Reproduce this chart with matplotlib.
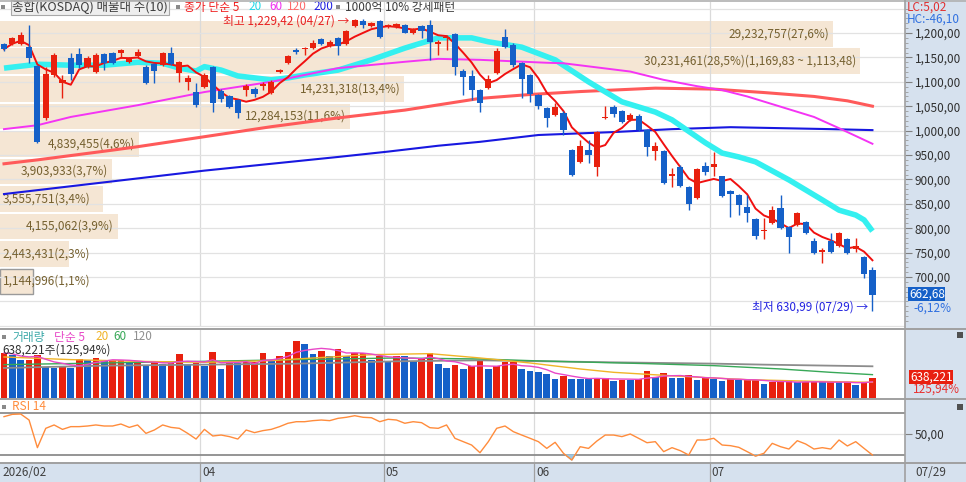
import numpy as np
import pandas as pd
import matplotlib
matplotlib.use('Agg')
import matplotlib.pyplot as plt
import matplotlib.transforms as mtransforms
from matplotlib.patches import Rectangle
from matplotlib.lines import Line2D

plt.rcParams['font.family'] = ['Noto Sans CJK KR', 'DejaVu Sans']

# ---- candles (KOSDAQ daily) ----
opens = [1177, 1177, 1177, 1172, 1132, 1025, 1114, 1098, 1148, 1156,
         1131, 1121, 1157, 1158, 1158, 1140, 1153, 1131, 1136, 1134,
         1160, 1119, 1100, 1080, 1090, 1130, 1082, 1070, 1063, 1083,
         1085, 1091, 1078, 1121, 1138, 1164, 1167, 1169, 1187, 1173,
         1190, 1177, 1214, 1225, 1214, 1224, 1214, 1213, 1216, 1201,
         1214, 1216, 1177, 1189, 1198, 1123, 1112, 1083, 1087, 1119,
         1192, 1175, 1138, 1114, 1073, 1047, 1032, 1037, 960, 936,
         960, 925, 1026, 1048, 1041, 1022, 1030, 1001, 958, 958,
         907, 926, 884, 861, 928, 926, 906, 877, 868, 844,
         818, 794, 810, 841, 802, 807, 813, 774, 751, 774,
         764, 778, 757, 742, 714]
highs = [1180, 1192, 1203, 1216, 1135, 1131, 1158, 1114, 1158, 1169,
         1152, 1160, 1160, 1162, 1167, 1151, 1167, 1134, 1138, 1162,
         1171, 1143, 1114, 1097, 1119, 1133, 1085, 1072, 1065, 1096,
         1089, 1100, 1104, 1126, 1155, 1169, 1172, 1186, 1190, 1186,
         1192, 1206, 1229.42, 1228, 1222, 1226, 1219, 1221, 1218, 1211,
         1216, 1227, 1186, 1196, 1200, 1126, 1124, 1085, 1114, 1169,
         1208, 1179, 1141, 1116, 1075, 1049, 1056, 1040, 962, 981,
         981, 999, 1050, 1052, 1043, 1036, 1034, 1003, 977, 960,
         923, 930, 886, 923, 936, 957, 908, 879, 870, 868,
         820, 821, 845, 868, 804, 834, 815, 780, 759, 790,
         792, 780, 779, 744, 721]
lows = [1164, 1175, 1175, 1138, 975, 1022, 1110, 1066, 1104, 1128,
        1129, 1119, 1124, 1136, 1148, 1138, 1150, 1095, 1097, 1132,
        1134, 1100, 1083, 1049, 1088, 1039, 1059, 1046, 1026, 1071,
        1068, 1083, 1076, 1119, 1136, 1157, 1155, 1167, 1175, 1171,
        1155, 1175, 1212, 1210, 1212, 1190, 1210, 1211, 1199, 1198,
        1189, 1145, 1155, 1165, 1114, 1073, 1063, 1039, 1085, 1116,
        1169, 1131, 1066, 1059, 1044, 1008, 1030, 991, 907, 934,
        933, 906, 1023, 1027, 1016, 1020, 999, 947, 940, 891,
        885, 884, 837, 859, 909, 906, 864, 824, 827, 813,
        777, 778, 808, 798, 749, 805, 789, 747, 729, 749,
        762, 747, 752, 697, 630.99]
closes = [1167, 1189, 1196, 1148, 977, 1117, 1155, 1104, 1117, 1134,
          1149, 1155, 1138, 1138, 1165, 1146, 1162, 1098, 1122, 1160,
          1136, 1141, 1107, 1052, 1114, 1057, 1064, 1048, 1036, 1091,
          1076, 1095, 1100, 1124, 1153, 1162, 1170, 1179, 1177, 1182,
          1173, 1204, 1226.18, 1216, 1220, 1192, 1216, 1218, 1201, 1208,
          1204, 1182, 1182, 1192, 1131, 1110, 1083, 1057, 1105, 1163,
          1172, 1134, 1105, 1075, 1050, 1025, 1049, 1001, 909, 968,
          950, 997, 1028, 1034, 1018, 1032, 1001, 967, 968, 893,
          911, 887, 850, 921, 915, 932, 866, 870, 848, 832,
          785, 796, 837, 800, 783, 832, 791, 749, 755, 751,
          790, 749, 764, 705.9, 662.68]

# daily volume (shares)
volume = [1436000, 1383000, 1202000, 1224000, 1383000, 979000, 968000, 975000, 970000, 1245000,
          1202000, 1277000, 1170000, 1202000, 1213000, 1149000, 1170000, 1032000, 1170000, 1085000,
          1117000, 1415000, 1085000, 1117000, 1011000, 1468000, 936000, 1149000, 1117000, 1138000,
          1149000, 1436000, 1224000, 1351000, 1468000, 1809000, 1734000, 1415000, 1490000, 1351000,
          1575000, 1351000, 1436000, 1447000, 1202000, 1351000, 1138000, 1351000, 1340000, 1170000,
          1245000, 1436000, 1096000, 958000, 1043000, 926000, 1032000, 1170000, 926000, 1011000,
          1138000, 1149000, 926000, 851000, 819000, 766000, 606000, 692000, 606000, 601000,
          596000, 638000, 649000, 553000, 585000, 580000, 606000, 851000, 660000, 798000,
          638000, 633000, 723000, 574000, 670000, 606000, 553000, 606000, 564000, 585000,
          590000, 457000, 500000, 505000, 553000, 500000, 505000, 511000, 500000, 511000,
          500000, 505000, 426000, 506770, 638221]

# RSI 14
rsi = [66.5, 68.7, 69.0, 63.3, 37.0, 55.4, 58.6, 54.4, 57.0, 57.0,
       57.6, 58.6, 57.6, 57.6, 59.5, 56.3, 58.6, 50.6, 53.8, 58.6,
       56.3, 55.4, 50.6, 45.2, 54.4, 48.1, 49.0, 47.5, 45.2, 53.8,
       51.3, 53.2, 54.4, 57.0, 60.2, 61.7, 61.7, 62.7, 63.3, 62.7,
       64.9, 65.9, 67.4, 65.9, 65.5, 61.7, 64.0, 63.3, 60.2, 61.7,
       60.8, 56.0, 55.4, 58.6, 45.9, 42.7, 39.5, 32.2, 42.7, 55.4,
       57.6, 52.2, 49.0, 45.9, 42.7, 36.3, 42.1, 31.6, 25.2, 37.9,
       36.3, 43.3, 49.0, 49.0, 47.5, 50.0, 45.9, 41.7, 42.7, 33.2,
       37.0, 34.1, 30.0, 44.3, 44.3, 45.9, 39.5, 38.9, 37.3, 33.2,
       29.0, 31.6, 41.1, 37.9, 35.7, 43.6, 40.5, 35.7, 37.0, 35.7,
       44.3, 38.6, 42.7, 36.3, 30.0]

# long moving averages (candle index -> value)
ma20_idx = [0, 4, 8, 12, 16, 19, 21, 23, 24, 26, 28, 32, 34, 36, 40, 44, 48, 52,
            56, 58, 62, 66, 70, 74, 78, 80, 84, 86, 88, 90, 94, 98, 100, 102, 103, 104]
ma20_val = [1128, 1136, 1134, 1134, 1140, 1138, 1128, 1122, 1131, 1124, 1112, 1104,
            1108, 1114, 1124, 1145, 1169, 1190, 1190, 1182, 1171, 1145, 1100, 1059,
            1038, 1022, 975, 954, 946, 936, 899, 858, 837, 827, 817, 794]
ma60_idx = [0, 4, 8, 16, 24, 32, 40, 48, 52, 57, 65, 67, 75, 79, 83, 86, 89, 93, 97, 100, 104]
ma60_val = [1003, 1011, 1028, 1052, 1079, 1100, 1128, 1141, 1147, 1145, 1139, 1138,
            1121, 1104, 1091, 1083, 1070, 1049, 1028, 1005, 973]
ma120_idx = [0, 4, 13, 16, 32, 40, 48, 57, 63, 69, 78, 85, 91, 97, 101, 104]
ma120_val = [932, 940, 960, 967, 1008, 1026, 1042, 1066, 1074, 1080, 1087, 1085,
             1078, 1070, 1061, 1050]
ma200_idx = [0, 24, 40, 46, 52, 57, 64, 73, 80, 87, 93, 99, 104]
ma200_val = [870, 918, 946, 957, 969, 977, 991, 997, 1003, 1007, 1005, 1003, 1001]

vma20_idx = [0, 8, 16, 24, 32, 35, 44, 51, 57, 63, 69, 73, 81, 89, 97, 104]
vma20_val = [1309, 1224, 1170, 1138, 1192, 1245, 1383, 1415, 1277, 1117, 926, 819,
             692, 585, 532, 500]
vma60_idx = [0, 12, 24, 35, 47, 57, 63, 69, 77, 85, 93, 99, 104]
vma60_val = [1064, 1117, 1170, 1224, 1277, 1245, 1192, 1149, 1096, 1032, 926, 819, 745]
vma120_idx = [0, 12, 24, 35, 47, 57, 73, 85, 91, 104]
vma120_val = [958, 1032, 1064, 1096, 1170, 1202, 1138, 1096, 1064, 1011]

# volume profile (매물대), top band first
band_vol = [29232757, 30231461, 14231318, 12284153, 4839455,
            3903933, 3555751, 4155062, 2443431, 1144996]
band_pct = [27.6, 28.5, 13.4, 11.6, 4.6, 3.7, 3.4, 3.9, 2.3, 1.1]
band_top = 1226.18
band_bottom = 662.68

first_label = '2026/02'
month_start = [24, 46, 64, 85]
month_labels = ['04', '05', '06', '07']
last_date = '07/29'
price_ticks = [700, 750, 800, 850, 900, 950, 1000, 1050, 1100, 1150, 1200]

RED = '#E8200E'
BLUE = '#1560C8'
PANEL = '#D6E1EE'
SEP = '#A0A0A0'


def kfmt(v, nd=2):
    return f"{v:,.{nd}f}".replace('.', ',')


W, H = 966, 482


def rect(x0, y0, x1, y1):
    return [x0 / W, 1 - y1 / H, (x1 - x0) / W, (y1 - y0) / H]


def ftext(x, y, s, color='#404040', **kw):
    kw.setdefault('fontsize', 8.5)
    return fig.text(x / W, 1 - y / H, s, color=color, va='center', ha=kw.pop('ha', 'left'), **kw)


def fbox(x0, y0, x1, y1, color):
    fig.patches.append(Rectangle((x0 / W, 1 - y1 / H), (x1 - x0) / W, (y1 - y0) / H,
                                 transform=fig.transFigure, facecolor=color,
                                 edgecolor='none', zorder=5))


def fline(x0, y0, x1, y1, color=SEP, lw=1.2):
    fig.add_artist(Line2D([x0 / W, x1 / W], [1 - y0 / H, 1 - y1 / H],
                          transform=fig.transFigure, color=color, lw=lw, zorder=6))


opens = np.array(opens, float)
highs = np.array(highs, float)
lows = np.array(lows, float)
closes = np.array(closes, float)
volume = np.array(volume, float)
rsi = np.array(rsi, float)
n = len(closes)
x = np.arange(n)
xlim = (-0.48, 107.9)

fig = plt.figure(figsize=(9.66, 4.82), dpi=100)
fig.patches.append(Rectangle((905 / W, 0), 61 / W, 1, transform=fig.transFigure,
                             facecolor=PANEL, edgecolor='none', zorder=-1))

ax = fig.add_axes(rect(0, 2, 905, 327))
axv = fig.add_axes(rect(0, 329, 905, 399))
axr = fig.add_axes(rect(0, 399, 905, 463))
axd = fig.add_axes(rect(0, 463, 905, 482))

for a in (ax, axv, axr, axd):
    a.set_xlim(*xlim)
    for s in a.spines.values():
        s.set_visible(False)
    a.tick_params(axis='x', bottom=False, labelbottom=False)
    a.tick_params(axis='y', left=False, labelleft=False)
    for m in month_start:
        a.axvline(m - 0.5, color='#DADADA' if a is not axd else SEP, lw=0.9, zorder=1)

# ---------------- price panel ----------------
ax.set_ylim(597.6, 1263.5)
for g in range(600, 1251, 50):
    ax.axhline(g, color='#E2E2E2', lw=0.9, zorder=1)

step = (band_top - band_bottom) / len(band_pct)
max_w = 103.0
for k, (bv, bp) in enumerate(zip(band_vol, band_pct)):
    hi = band_top - k * step
    lo = hi - step
    w = bp / max(band_pct) * max_w
    ax.barh((hi + lo) / 2, w, height=step - 3.2, left=xlim[0], color='#F5E6D4',
            edgecolor='#9A9A9A' if k == len(band_pct) - 1 else 'none', lw=1, zorder=0.8)
    label = f"{bv:,}({kfmt(bp, 1)}%)"
    if bp == max(band_pct):
        label += f"({kfmt(hi)} ~ {kfmt(lo)})"
    if w * 8.35 > 108:
        ax.text(xlim[0] + w - 0.45, (hi + lo) / 2, label, ha='right', va='center',
                fontsize=8.5, color='#75602F', zorder=1.5)
    else:
        ax.text(xlim[0] + 0.3, (hi + lo) / 2, label, ha='left', va='center',
                fontsize=8.5, color='#75602F', zorder=1.5)

ma5 = pd.Series(closes).rolling(5, min_periods=1).mean()
ax.plot(ma120_idx, ma120_val, color='#FF5A5A', lw=2.2, zorder=2)
ax.plot(ma200_idx, ma200_val, color='#1818E0', lw=1.5, zorder=2)
ax.plot(ma20_idx, ma20_val, color='#34F0F0', lw=4.0, zorder=2.2, solid_capstyle='butt')
ax.plot(ma60_idx, ma60_val, color='#F434F4', lw=1.4, zorder=2.5)
ax.plot(x, ma5, color='#F01010', lw=1.4, zorder=3)

up = closes >= opens
ccol = np.where(up, RED, BLUE)
ax.vlines(x, lows, highs, colors=ccol, lw=1.0, zorder=4)
body_lo = np.minimum(opens, closes)
body_h = np.maximum(np.abs(closes - opens), 2.5)
ax.bar(x, body_h, bottom=body_lo, width=0.74, color=ccol, linewidth=0, zorder=5)

ihi = int(np.argmax(highs))
ilo = int(np.argmin(lows))
ax.text(ihi - 0.6, highs[ihi] - 4, f"최고 {kfmt(highs[ihi])} (04/27) →", ha='right',
        va='center', fontsize=8.5, color='#E82020', zorder=6)
ax.text(ilo - 0.55, lows[ilo] + 8, f"최저 {kfmt(lows[ilo])} ({last_date}) →", ha='right',
        va='center', fontsize=8.5, color='#2424E0', zorder=6)

ax.yaxis.tick_right()
ax.set_yticks(price_ticks)
ax.set_yticklabels([kfmt(v) for v in price_ticks])
ax.set_yticks(np.arange(610, 1260, 10), minor=True)
ax.tick_params(axis='y', which='major', right=True, labelright=True, length=5,
               color='#808080', labelsize=8.5, labelcolor='#303030', pad=2)
ax.tick_params(axis='y', which='minor', right=True, length=2, color='#9A9A9A')

tr = mtransforms.blended_transform_factory(ax.transAxes, ax.transData)
chg = (closes[-1] / closes[-2] - 1) * 100
ax.text(1 + 4 / 905, closes[-1] + 2, kfmt(closes[-1]), transform=tr, ha='left', va='center',
        fontsize=8.5, color='white', zorder=7,
        bbox=dict(facecolor=BLUE, edgecolor='none', pad=0.4))
ax.text(1 + 8 / 905, closes[-1] - 26, f"{kfmt(chg)}%", transform=tr, ha='left', va='center',
        fontsize=8.5, color='#3070E0')

# ---------------- volume panel ----------------
axv.set_ylim(-32000, 2201000)
vprev = np.concatenate([[0], volume[:-1]])
vcol = np.where(volume >= vprev, RED, BLUE)
axv.bar(x, volume, width=0.8, color=vcol, linewidth=0, zorder=2)
vma5 = pd.Series(volume).rolling(5, min_periods=1).mean()
axv.plot(vma120_idx, np.array(vma120_val) * 1000, color='#8C8C8C', lw=1.3, zorder=3)
axv.plot(vma60_idx, np.array(vma60_val) * 1000, color='#38A858', lw=1.0, zorder=3)
axv.plot(vma20_idx, np.array(vma20_val) * 1000, color='#F0B428', lw=1.0, zorder=3)
axv.plot(x, vma5, color='#E848C8', lw=1.0, zorder=3)
vr = volume[-1] / volume[-2] * 100
trv = mtransforms.blended_transform_factory(axv.transAxes, axv.transData)
axv.text(1 + 5 / 905, volume[-1] + 20000, f"{volume[-1]:,.0f}", transform=trv, ha='left',
         va='center', fontsize=8.5, color='white',
         bbox=dict(facecolor='#E82010', edgecolor='none', pad=0.4))
axv.text(1 + 8 / 905, 270000, f"{kfmt(vr)}%", transform=trv, ha='left', va='center',
         fontsize=8.5, color='#E83030')

# ---------------- RSI panel ----------------
axr.set_ylim(22.4, 83.3)
axr.axhline(50, color='#E2E2E2', lw=0.9, zorder=1)
axr.axhline(70, color='#8C8C8C', lw=1.3, zorder=1)
axr.axhline(30, color='#8C8C8C', lw=1.3, zorder=1)
axr.fill_between(x, rsi, 30, where=rsi < 30, interpolate=True, color='#9CC8E4', zorder=2)
axr.plot(x, rsi, color='#FF8C3C', lw=1.0, zorder=3)
axr.yaxis.tick_right()
axr.set_yticks([50])
axr.set_yticklabels([kfmt(50)])
axr.tick_params(axis='y', right=True, labelright=True, length=5, color='#808080',
                labelsize=8.5, labelcolor='#303030', pad=2)

# ---------------- date row ----------------
axd.set_facecolor(PANEL)
axd.set_ylim(0, 1)
axd.text(xlim[0] + 0.3, 0.5, first_label, ha='left', va='center', fontsize=8.5, color='#404040')
for m, lab in zip(month_start, month_labels):
    axd.text(m - 0.3, 0.5, lab, ha='left', va='center', fontsize=8.5, color='#404040')
ftext(915, 472, last_date)

# ---------------- frame & legends ----------------
fline(0, 0.5, 966, 0.5, '#B0B0B0', 1.2)
fline(0, 329, 966, 329, SEP, 1.4)
fline(0, 399, 966, 399, SEP, 1.4)
fline(0, 463, 966, 463, SEP, 1.4)
fline(905, 0, 905, 482, SEP, 1.2)

fbox(1, 5, 5, 9, '#8A8A8A')
ftext(12, 7, '종합(KOSDAQ) 매물대 수(10)', '#3C3C3C', fontsize=9,
      bbox=dict(facecolor='#EEEEEE', edgecolor='#A8A8A8', pad=0.6, lw=0.8))
fbox(176, 5, 180, 9, '#8A8A8A')
ftext(184, 7, '종가 단순 5', '#F02020')
ftext(248, 7, '20', '#20D8E8')
ftext(269, 7, '60', '#F030F0')
ftext(287, 7, '120', '#FF6A6A')
ftext(313, 7, '200', '#2020E0')
fbox(336, 5, 340, 9, '#8A8A8A')
ftext(345, 7, '1000억 10% 강세패턴', '#3C3C3C')

ftext(907, 7, 'LC:5,02', '#E03030')
ftext(907, 19, 'HC:-46,10', '#3070E0')

fbox(2, 335, 6, 339, '#8A8A8A')
ftext(12, 337, '거래량', '#3AA8A8')
ftext(54, 337, '단순 5', '#E848C8')
ftext(95, 337, '20', '#F0B428')
ftext(113, 337, '60', '#38A858')
ftext(133, 337, '120', '#909090')
ftext(2, 350, f"{volume[-1]:,.0f}주({kfmt(vr)}%)", '#303030')

fbox(2, 405, 6, 409, '#8A8A8A')
ftext(12, 407, 'RSI 14', '#FF8C3C')

fbox(957, 332, 963, 338, '#505050')
fbox(957, 404, 963, 410, '#505050')

fig.savefig('out.png', dpi=100)
